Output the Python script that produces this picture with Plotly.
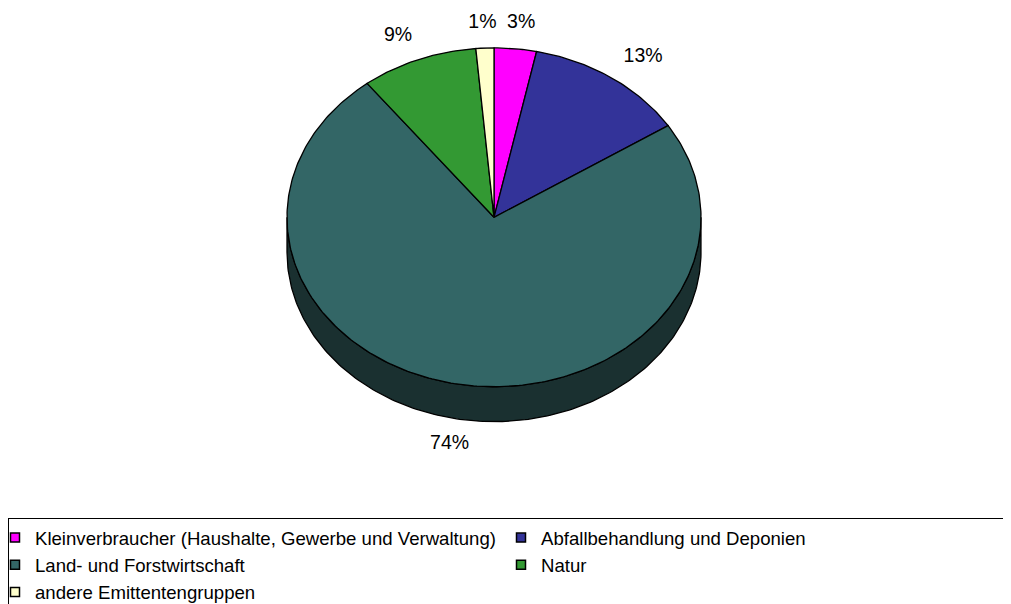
import numpy as np
import plotly.graph_objects as go

categories = [
    "Kleinverbraucher (Haushalte, Gewerbe und Verwaltung)",
    "Abfallbehandlung und Deponien",
    "Land- und Forstwirtschaft",
    "Natur",
    "andere Emittentengruppen",
]
values = [3.3, 12.6, 73.6, 9.1, 1.4]
colors = ["#FF00FF", "#333399", "#336666", "#339933", "#FFFFCC"]
side_colors = ["#800080", "#1a1a4d", "#1a3030", "#1a4d1a", "#808066"]

W, H = 1011, 604
cx_px, cy_px = 486, 210      # ellipse centre in pixels
rx_px, ry_px = 207, 170      # ellipse radii in pixels
depth = 35 / ry_px           # thickness in y-units
FONT = "Liberation Sans, Arial, sans-serif"

total = sum(values)
fracs = [v / total for v in values]
starts = np.cumsum([0] + fracs[:-1]) * 2 * np.pi
ends = np.cumsum(fracs) * 2 * np.pi


def arc(a0, a1, n=None):
    if n is None:
        n = max(4, int(abs(a1 - a0) / (2 * np.pi) * 400))
    t = np.linspace(a0, a1, n)
    return np.sin(t), np.cos(t)


fig = go.Figure()

# side (front rim) of the pie
for i in range(len(values)):
    a0 = max(starts[i], np.pi / 2)
    a1 = min(ends[i], 3 * np.pi / 2)
    if a1 <= a0:
        continue
    xt, yt = arc(a0, a1)
    xs = np.concatenate([xt, xt[::-1], xt[:1]])
    ys = np.concatenate([yt, yt[::-1] - depth, yt[:1]])
    fig.add_trace(go.Scatter(
        x=xs, y=ys, mode="lines", fill="toself",
        fillcolor=side_colors[i], line=dict(color="black", width=1.3),
        showlegend=False, hoverinfo="skip"))

# top faces
for i in range(len(values)):
    xt, yt = arc(starts[i], ends[i])
    xs = np.concatenate([[0], xt, [0]])
    ys = np.concatenate([[0], yt, [0]])
    fig.add_trace(go.Scatter(
        x=xs, y=ys, mode="lines", fill="toself",
        fillcolor=colors[i], line=dict(color="black", width=1.3),
        showlegend=False,
        hovertemplate=f"{categories[i]}: {values[i]:.0f}%<extra></extra>"))

# legend entries (square swatches)
for i in range(len(values)):
    fig.add_trace(go.Scatter(
        x=[None], y=[None], mode="markers", name=categories[i],
        marker=dict(symbol="square", size=9, color=colors[i],
                    line=dict(color="black", width=1.5)),
        legendrank=i + 1))

# percentage labels
mids = (starts + ends) / 2
lx = np.sin(mids) * 1.27
ly = np.cos(mids) * 1.15
ly = np.where(np.cos(mids) < 0, ly - depth, ly)
labels = [f"{round(f * 100):.0f}%" for f in fracs]
fig.add_trace(go.Scatter(
    x=lx, y=ly, mode="text", text=labels,
    textfont=dict(family=FONT, size=19.5, color="black"),
    showlegend=False, hoverinfo="skip"))

fig.update_layout(
    width=W, height=H,
    margin=dict(l=0, r=0, t=0, b=0),
    paper_bgcolor="white", plot_bgcolor="white",
    xaxis=dict(range=[-cx_px / rx_px, (W - cx_px) / rx_px], visible=False, fixedrange=True),
    yaxis=dict(range=[-(H - cy_px) / ry_px, cy_px / ry_px], visible=False, fixedrange=True),
    showlegend=True,
    legend=dict(
        orientation="h", x=0, xanchor="left", y=1 - 512 / H, yanchor="top",
        bordercolor="black", borderwidth=1, bgcolor="white",
        font=dict(family=FONT, size=18.6, color="black"),
        entrywidth=475, entrywidthmode="pixels",
        traceorder="normal", itemwidth=30, indentation=-14,
    ),
)

fig.write_html("out.html")
